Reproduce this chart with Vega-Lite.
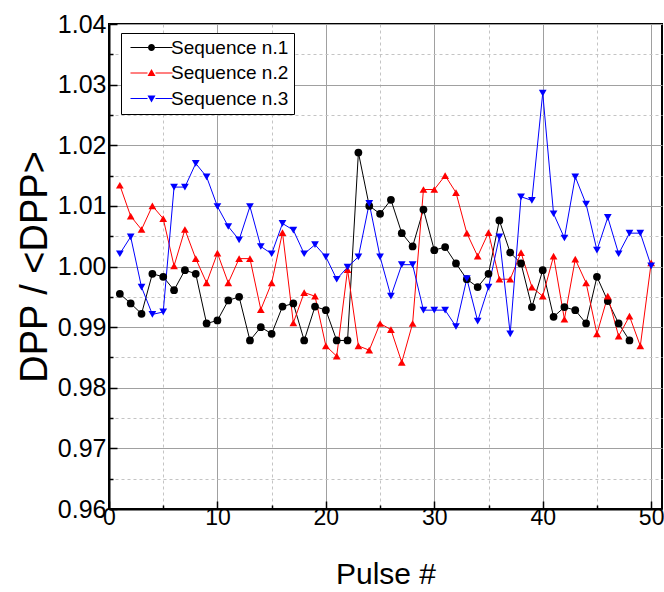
{
  "$schema": "https://vega.github.io/schema/vega-lite/v6.json",
  "width": 553,
  "height": 485,
  "autosize": {"type": "none"},
  "padding": {"left": 109, "top": 24, "right": 2, "bottom": 83},
  "background": "white",
  "config": {
    "font": "Liberation Sans",
    "view": {"stroke": "black", "strokeWidth": 2}
  },
  "datasets": {
    "pts": [
      {"pulse":1,"series":"Sequence n.1","dpp":0.9955},{"pulse":2,"series":"Sequence n.1","dpp":0.9939},{"pulse":3,"series":"Sequence n.1","dpp":0.9922},{"pulse":4,"series":"Sequence n.1","dpp":0.9988},{"pulse":5,"series":"Sequence n.1","dpp":0.9983},{"pulse":6,"series":"Sequence n.1","dpp":0.9961},{"pulse":7,"series":"Sequence n.1","dpp":0.9994},{"pulse":8,"series":"Sequence n.1","dpp":0.9988},{"pulse":9,"series":"Sequence n.1","dpp":0.9906},{"pulse":10,"series":"Sequence n.1","dpp":0.9911},
      {"pulse":11,"series":"Sequence n.1","dpp":0.9944},{"pulse":12,"series":"Sequence n.1","dpp":0.9950},{"pulse":13,"series":"Sequence n.1","dpp":0.9878},{"pulse":14,"series":"Sequence n.1","dpp":0.9900},{"pulse":15,"series":"Sequence n.1","dpp":0.9889},{"pulse":16,"series":"Sequence n.1","dpp":0.9934},{"pulse":17,"series":"Sequence n.1","dpp":0.9939},{"pulse":18,"series":"Sequence n.1","dpp":0.9878},{"pulse":19,"series":"Sequence n.1","dpp":0.9934},{"pulse":20,"series":"Sequence n.1","dpp":0.9928},
      {"pulse":21,"series":"Sequence n.1","dpp":0.9878},{"pulse":22,"series":"Sequence n.1","dpp":0.9878},{"pulse":23,"series":"Sequence n.1","dpp":1.0188},{"pulse":24,"series":"Sequence n.1","dpp":1.0100},{"pulse":25,"series":"Sequence n.1","dpp":1.0087},{"pulse":26,"series":"Sequence n.1","dpp":1.0110},{"pulse":27,"series":"Sequence n.1","dpp":1.0055},{"pulse":28,"series":"Sequence n.1","dpp":1.0033},{"pulse":29,"series":"Sequence n.1","dpp":1.0094},{"pulse":30,"series":"Sequence n.1","dpp":1.0027},
      {"pulse":31,"series":"Sequence n.1","dpp":1.0032},{"pulse":32,"series":"Sequence n.1","dpp":1.0005},{"pulse":33,"series":"Sequence n.1","dpp":0.9979},{"pulse":34,"series":"Sequence n.1","dpp":0.9966},{"pulse":35,"series":"Sequence n.1","dpp":0.9988},{"pulse":36,"series":"Sequence n.1","dpp":1.0076},{"pulse":37,"series":"Sequence n.1","dpp":1.0023},{"pulse":38,"series":"Sequence n.1","dpp":1.0005},{"pulse":39,"series":"Sequence n.1","dpp":0.9933},{"pulse":40,"series":"Sequence n.1","dpp":0.9994},
      {"pulse":41,"series":"Sequence n.1","dpp":0.9917},{"pulse":42,"series":"Sequence n.1","dpp":0.9933},{"pulse":43,"series":"Sequence n.1","dpp":0.9928},{"pulse":44,"series":"Sequence n.1","dpp":0.9906},{"pulse":45,"series":"Sequence n.1","dpp":0.9983},{"pulse":46,"series":"Sequence n.1","dpp":0.9943},{"pulse":47,"series":"Sequence n.1","dpp":0.9906},{"pulse":48,"series":"Sequence n.1","dpp":0.9878},
      {"pulse":1,"series":"Sequence n.2","dpp":1.0134},{"pulse":2,"series":"Sequence n.2","dpp":1.0083},{"pulse":3,"series":"Sequence n.2","dpp":1.0061},{"pulse":4,"series":"Sequence n.2","dpp":1.0100},{"pulse":5,"series":"Sequence n.2","dpp":1.0079},{"pulse":6,"series":"Sequence n.2","dpp":1.0001},{"pulse":7,"series":"Sequence n.2","dpp":1.0061},{"pulse":8,"series":"Sequence n.2","dpp":1.0013},{"pulse":9,"series":"Sequence n.2","dpp":0.9973},{"pulse":10,"series":"Sequence n.2","dpp":1.0022},
      {"pulse":11,"series":"Sequence n.2","dpp":0.9973},{"pulse":12,"series":"Sequence n.2","dpp":1.0013},{"pulse":13,"series":"Sequence n.2","dpp":1.0013},{"pulse":14,"series":"Sequence n.2","dpp":0.9929},{"pulse":15,"series":"Sequence n.2","dpp":0.9973},{"pulse":16,"series":"Sequence n.2","dpp":1.0056},{"pulse":17,"series":"Sequence n.2","dpp":0.9907},{"pulse":18,"series":"Sequence n.2","dpp":0.9957},{"pulse":19,"series":"Sequence n.2","dpp":0.9951},{"pulse":20,"series":"Sequence n.2","dpp":0.9869},
      {"pulse":21,"series":"Sequence n.2","dpp":0.9852},{"pulse":22,"series":"Sequence n.2","dpp":0.9995},{"pulse":23,"series":"Sequence n.2","dpp":0.9869},{"pulse":24,"series":"Sequence n.2","dpp":0.9862},{"pulse":25,"series":"Sequence n.2","dpp":0.9906},{"pulse":26,"series":"Sequence n.2","dpp":0.9896},{"pulse":27,"series":"Sequence n.2","dpp":0.9842},{"pulse":28,"series":"Sequence n.2","dpp":0.9906},{"pulse":29,"series":"Sequence n.2","dpp":1.0127},{"pulse":30,"series":"Sequence n.2","dpp":1.0127},
      {"pulse":31,"series":"Sequence n.2","dpp":1.0150},{"pulse":32,"series":"Sequence n.2","dpp":1.0122},{"pulse":33,"series":"Sequence n.2","dpp":1.0055},{"pulse":34,"series":"Sequence n.2","dpp":1.0017},{"pulse":35,"series":"Sequence n.2","dpp":1.0056},{"pulse":36,"series":"Sequence n.2","dpp":0.9979},{"pulse":37,"series":"Sequence n.2","dpp":0.9979},{"pulse":38,"series":"Sequence n.2","dpp":1.0023},{"pulse":39,"series":"Sequence n.2","dpp":0.9966},{"pulse":40,"series":"Sequence n.2","dpp":0.9951},
      {"pulse":41,"series":"Sequence n.2","dpp":1.0017},{"pulse":42,"series":"Sequence n.2","dpp":0.9913},{"pulse":43,"series":"Sequence n.2","dpp":1.0012},{"pulse":44,"series":"Sequence n.2","dpp":0.9973},{"pulse":45,"series":"Sequence n.2","dpp":0.9889},{"pulse":46,"series":"Sequence n.2","dpp":0.9951},{"pulse":47,"series":"Sequence n.2","dpp":0.9885},{"pulse":48,"series":"Sequence n.2","dpp":0.9918},{"pulse":49,"series":"Sequence n.2","dpp":0.9869},{"pulse":50,"series":"Sequence n.2","dpp":1.0006},
      {"pulse":1,"series":"Sequence n.3","dpp":1.0021},{"pulse":2,"series":"Sequence n.3","dpp":1.0049},{"pulse":3,"series":"Sequence n.3","dpp":0.9966},{"pulse":4,"series":"Sequence n.3","dpp":0.9921},{"pulse":5,"series":"Sequence n.3","dpp":0.9925},{"pulse":6,"series":"Sequence n.3","dpp":1.0131},{"pulse":7,"series":"Sequence n.3","dpp":1.0131},{"pulse":8,"series":"Sequence n.3","dpp":1.0170},{"pulse":9,"series":"Sequence n.3","dpp":1.0148},{"pulse":10,"series":"Sequence n.3","dpp":1.0099},
      {"pulse":11,"series":"Sequence n.3","dpp":1.0066},{"pulse":12,"series":"Sequence n.3","dpp":1.0044},{"pulse":13,"series":"Sequence n.3","dpp":1.0099},{"pulse":14,"series":"Sequence n.3","dpp":1.0033},{"pulse":15,"series":"Sequence n.3","dpp":1.0021},{"pulse":16,"series":"Sequence n.3","dpp":1.0071},{"pulse":17,"series":"Sequence n.3","dpp":1.0060},{"pulse":18,"series":"Sequence n.3","dpp":1.0021},{"pulse":19,"series":"Sequence n.3","dpp":1.0036},{"pulse":20,"series":"Sequence n.3","dpp":1.0016},
      {"pulse":21,"series":"Sequence n.3","dpp":0.9979},{"pulse":22,"series":"Sequence n.3","dpp":0.9999},{"pulse":23,"series":"Sequence n.3","dpp":1.0016},{"pulse":24,"series":"Sequence n.3","dpp":1.0104},{"pulse":25,"series":"Sequence n.3","dpp":1.0016},{"pulse":26,"series":"Sequence n.3","dpp":0.9951},{"pulse":27,"series":"Sequence n.3","dpp":1.0003},{"pulse":28,"series":"Sequence n.3","dpp":1.0003},{"pulse":29,"series":"Sequence n.3","dpp":0.9928},{"pulse":30,"series":"Sequence n.3","dpp":0.9928},
      {"pulse":31,"series":"Sequence n.3","dpp":0.9928},{"pulse":32,"series":"Sequence n.3","dpp":0.9901},{"pulse":33,"series":"Sequence n.3","dpp":0.9980},{"pulse":34,"series":"Sequence n.3","dpp":0.9910},{"pulse":35,"series":"Sequence n.3","dpp":0.9966},{"pulse":36,"series":"Sequence n.3","dpp":1.0049},{"pulse":37,"series":"Sequence n.3","dpp":0.9889},{"pulse":38,"series":"Sequence n.3","dpp":1.0115},{"pulse":39,"series":"Sequence n.3","dpp":1.0109},{"pulse":40,"series":"Sequence n.3","dpp":1.0286},
      {"pulse":41,"series":"Sequence n.3","dpp":1.0087},{"pulse":42,"series":"Sequence n.3","dpp":1.0047},{"pulse":43,"series":"Sequence n.3","dpp":1.0148},{"pulse":44,"series":"Sequence n.3","dpp":1.0103},{"pulse":45,"series":"Sequence n.3","dpp":1.0027},{"pulse":46,"series":"Sequence n.3","dpp":1.0081},{"pulse":47,"series":"Sequence n.3","dpp":1.0021},{"pulse":48,"series":"Sequence n.3","dpp":1.0055},{"pulse":49,"series":"Sequence n.3","dpp":1.0055},{"pulse":50,"series":"Sequence n.3","dpp":1.0001}
    ]
  },
  "data": {"name": "pts"},
  "layer": [
    {
      "mark": {"type": "line", "strokeWidth": 1},
      "encoding": {
        "x": {
          "field": "pulse", "type": "quantitative",
          "scale": {"domain": [0, 51], "nice": false, "zero": false},
          "axis": {
            "orient": "bottom",
            "values": [0,10,20,30,40,50],
            "title": "Pulse #", "titleFontSize": 30, "titleFontWeight": "normal", "titleColor": "black", "titlePadding": 30,
            "labelFontSize": 23, "labelColor": "black", "labelPadding": 5, "labelFlush": false, "labelOverlap": false,
            "domainColor": "black", "domainWidth": 2,
            "tickColor": "black", "tickWidth": 1.5, "tickSize": -8,
            "grid": true, "gridColor": "#a0a0a0", "gridWidth": 1
          }
        },
        "y": {
          "field": "dpp", "type": "quantitative",
          "scale": {"domain": [0.96, 1.04], "nice": false, "zero": false},
          "axis": {
            "orient": "left",
            "values": [0.96,0.97,0.98,0.99,1.0,1.01,1.02,1.03,1.04],
            "format": ".2f",
            "title": "DPP / <DPP>", "titleFontSize": 38, "titleFontWeight": "normal", "titleColor": "black", "titlePadding": 3,
            "labelFontSize": 25, "labelColor": "black", "labelPadding": 11, "labelFlush": false, "labelOverlap": false,
            "domainColor": "black", "domainWidth": 2,
            "tickColor": "black", "tickWidth": 1.5, "tickSize": -8,
            "grid": true, "gridColor": "#a0a0a0", "gridWidth": 1
          }
        },
        "color": {
          "field": "series", "type": "nominal",
          "scale": {"domain": ["Sequence n.1", "Sequence n.2", "Sequence n.3"], "range": ["#000000", "#ff0000", "#0000ff"]},
          "legend": null
        }
      }
    },
    {
      "mark": {"type": "point", "filled": true, "opacity": 1, "size": 60},
      "encoding": {
        "x": {
          "field": "pulse", "type": "quantitative",
          "axis": {
            "orient": "bottom",
            "values": [5,15,25,35,45],
            "title": null, "labels": false, "domain": false,
            "tickColor": "black", "tickWidth": 1.5, "tickSize": -4,
            "grid": true, "gridColor": "#c4c4c4", "gridWidth": 1, "gridDash": [3, 3]
          }
        },
        "y": {
          "field": "dpp", "type": "quantitative",
          "axis": {
            "orient": "left",
            "values": [0.965,0.975,0.985,0.995,1.005,1.015,1.025,1.035],
            "title": null, "labels": false, "domain": false,
            "tickColor": "black", "tickWidth": 1.5, "tickSize": -4,
            "grid": true, "gridColor": "#c4c4c4", "gridWidth": 1, "gridDash": [3, 3]
          }
        },
        "color": {
          "field": "series", "type": "nominal",
          "scale": {"domain": ["Sequence n.1", "Sequence n.2", "Sequence n.3"], "range": ["#000000", "#ff0000", "#0000ff"]},
          "legend": null
        },
        "shape": {
          "field": "series", "type": "nominal",
          "scale": {"domain": ["Sequence n.1", "Sequence n.2", "Sequence n.3"], "range": ["circle", "triangle-up", "triangle-down"]},
          "legend": null
        }
      }
    },
    {
      "transform": [{"filter": "datum.pulse < 0"}],
      "mark": {"type": "point", "filled": true, "opacity": 1},
      "encoding": {
        "x": {"field": "pulse", "type": "quantitative", "axis": null},
        "y": {"field": "dpp", "type": "quantitative", "axis": null},
        "color": {
          "field": "series", "type": "nominal",
          "scale": {"domain": ["Sequence n.1", "Sequence n.2", "Sequence n.3"], "range": ["#000000", "#ff0000", "#0000ff"]},
          "legend": {
            "title": null, "orient": "none", "legendX": 12, "legendY": 9,
            "labelFontSize": 19, "labelColor": "black", "labelOffset": 26,
            "strokeColor": "black", "fillColor": "white", "padding": 5,
            "rowPadding": 5.5, "symbolSize": 100, "symbolStrokeWidth": 0
          }
        },
        "shape": {
          "field": "series", "type": "nominal",
          "scale": {
            "domain": ["Sequence n.1", "Sequence n.2", "Sequence n.3"],
            "range": [
              "M-1,-0.1H2.5V0.1H-1Z M3.9,-0.1H7.4V0.1H3.9Z M2.5,0A0.7,0.7,0,1,0,3.9,0A0.7,0.7,0,1,0,2.5,0Z",
              "M-1,-0.1H2.4V0.1H-1Z M4,-0.1H7.4V0.1H4Z M3.2,-0.8L4,0.6L2.4,0.6Z",
              "M-1,-0.1H2.4V0.1H-1Z M4,-0.1H7.4V0.1H4Z M3.2,0.8L4,-0.6L2.4,-0.6Z"
            ]
          },
          "legend": {
            "title": null, "orient": "none", "legendX": 12, "legendY": 9,
            "labelFontSize": 19, "labelColor": "black", "labelOffset": 26,
            "strokeColor": "black", "fillColor": "white", "padding": 5,
            "rowPadding": 5.5, "symbolSize": 100, "symbolStrokeWidth": 0
          }
        }
      }
    }
  ],
  "resolve": {
    "scale": {"color": "independent", "shape": "independent"},
    "axis": {"x": "independent", "y": "independent"}
  }
}
